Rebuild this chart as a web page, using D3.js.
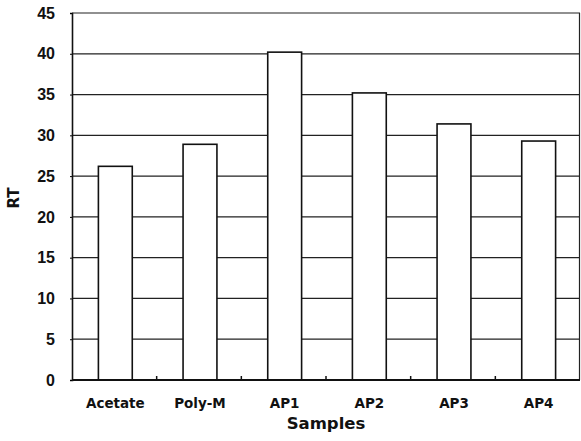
<!DOCTYPE html>
<html>
<head>
<meta charset="utf-8">
<script src="https://cdn.jsdelivr.net/npm/d3@7"></script>
<style>
body { margin: 0; background: #fff; }
</style>
</head>
<body>
<div id="chart_div"></div>
<script>
var samples = ["Acetate", "Poly-M", "AP1", "AP2", "AP3", "AP4"];
var rt_values = [26.2, 28.9, 40.2, 35.2, 31.4, 29.3];
var y_ticks = [0, 5, 10, 15, 20, 25, 30, 35, 40, 45];

var chart_width = 581;
var chart_height = 441;
var margin = {top: 13, right: 1, bottom: 61, left: 72};

var svg = d3.select("#chart_div")
    .append("svg")
    .attr("width", chart_width)
    .attr("height", chart_height);

var x = d3.scaleBand()
    .domain(samples)
    .range([margin.left, chart_width - margin.right])
    .paddingInner(0.6)
    .paddingOuter(0.3);

var y = d3.scaleLinear()
    .domain([0, 45])
    .range([chart_height - margin.bottom, margin.top]);

// gridlines (bars drawn on top hide them)
svg.append("g")
    .selectAll("line")
    .data(y_ticks)
    .enter()
    .append("line")
    .attr("x1", margin.left)
    .attr("x2", chart_width - margin.right)
    .attr("y1", function(d) { return y(d); })
    .attr("y2", function(d) { return y(d); })
    .attr("stroke", "#222")
    .attr("stroke-width", 1.2);

// right border
svg.append("line")
    .attr("x1", chart_width - margin.right - 0.5)
    .attr("x2", chart_width - margin.right - 0.5)
    .attr("y1", y(45))
    .attr("y2", y(0))
    .attr("stroke", "#222")
    .attr("stroke-width", 1.2);

// bars
svg.append("g")
    .selectAll("rect")
    .data(rt_values)
    .enter()
    .append("rect")
    .attr("x", function(d, i) { return x(samples[i]) + 1; })
    .attr("y", function(d) { return y(d); })
    .attr("width", x.bandwidth())
    .attr("height", function(d) { return y(0) - y(d); })
    .attr("fill", "#fff")
    .attr("stroke", "#111")
    .attr("stroke-width", 1.6);

// y axis
var y_axis = svg.append("g")
    .attr("transform", "translate(" + margin.left + ",0)")
    .call(d3.axisLeft(y).tickValues(y_ticks).tickSize(2).tickPadding(15));
y_axis.select(".domain").attr("stroke", "#111").attr("stroke-width", 1.6);
y_axis.selectAll("text")
    .attr("font-family", "Liberation Sans, Arial, sans-serif")
    .attr("font-weight", "bold")
    .attr("font-size", 16)
    .attr("fill", "#111");

// x axis: ticks at category boundaries
var step = x.step();
var boundaries = samples.slice(1).map(function(s) { return x(s) - (step - x.bandwidth()) / 2; });
svg.append("g")
    .selectAll("line")
    .data(boundaries)
    .enter()
    .append("line")
    .attr("x1", function(d) { return d; })
    .attr("x2", function(d) { return d; })
    .attr("y1", y(0))
    .attr("y2", y(0) - 4)
    .attr("stroke", "#111")
    .attr("stroke-width", 1.5);

svg.append("line")
    .attr("x1", margin.left)
    .attr("x2", chart_width - margin.right)
    .attr("y1", y(0))
    .attr("y2", y(0))
    .attr("stroke", "#111")
    .attr("stroke-width", 2);

svg.append("g")
    .selectAll("text")
    .data(samples)
    .enter()
    .append("text")
    .attr("x", function(d) { return x(d) + x.bandwidth() / 2 + 1; })
    .attr("y", 408)
    .attr("text-anchor", "middle")
    .attr("font-family", "DejaVu Sans, sans-serif")
    .attr("font-weight", "bold")
    .attr("font-size", 13.5)
    .attr("fill", "#111")
    .text(function(d) { return d; });

// axis titles
svg.append("text")
    .attr("x", 326)
    .attr("y", 429)
    .attr("text-anchor", "middle")
    .attr("font-family", "DejaVu Sans, sans-serif")
    .attr("font-weight", "bold")
    .attr("font-size", 16.5)
    .attr("fill", "#111")
    .text("Samples");

svg.append("text")
    .attr("transform", "translate(19,198) rotate(-90)")
    .attr("text-anchor", "middle")
    .attr("font-family", "DejaVu Sans, sans-serif")
    .attr("font-weight", "bold")
    .attr("font-size", 15)
    .attr("fill", "#111")
    .text("RT");
</script>
</body>
</html>
